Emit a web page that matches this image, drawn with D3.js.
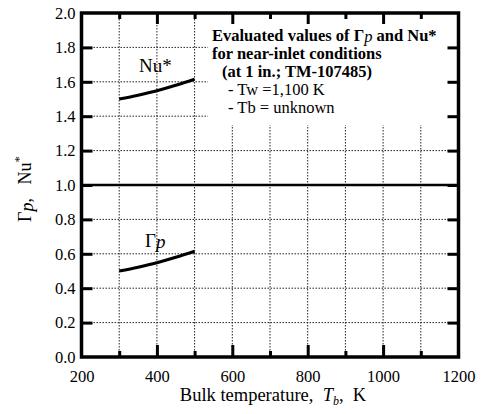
<!DOCTYPE html>
<html><head><meta charset="utf-8">
<script src="https://cdn.jsdelivr.net/npm/d3@7"></script>
</head>
<body style="margin:0"><svg id="c" width="481" height="414"></svg>
<script>
const tempK = [300, 350, 400, 450, 500];
const nuStar = [1.50, 1.522, 1.548, 1.58, 1.615];
const gammaP = [0.50, 0.522, 0.548, 0.58, 0.615];
const xTickValues = [200, 400, 600, 800, 1000, 1200];
const xMinorValues = [300, 500, 700, 900, 1100];
const yTickValues = [0.0, 0.2, 0.4, 0.6, 0.8, 1.0, 1.2, 1.4, 1.6, 1.8, 2.0];
const noteLines = [
  {t: "Evaluated values of ", bold: true},
  {t: "for near-inlet conditions", bold: true},
  {t: "(at 1 in.; TM-107485)", bold: true},
  {t: "- Tw =1,100 K", bold: false},
  {t: "- Tb = unknown", bold: false}
];

const FONT = "Liberation Serif";
const svg = d3.select("#c");
const L = 81.5, R = 458.5, T = 13, B = 357;
const x = d3.scaleLinear().domain([200, 1200]).range([L, R]);
const y = d3.scaleLinear().domain([0, 2]).range([B, T]);

// grid
const grid = svg.append("g").attr("stroke", "#222").attr("stroke-width", 1).attr("stroke-dasharray", "1.5,1.5");
d3.range(300, 1200, 100).forEach(v => grid.append("line").attr("x1", x(v)).attr("x2", x(v)).attr("y1", T).attr("y2", B));
yTickValues.filter(v => v > 0 && v < 2 && v !== 1).forEach(v => grid.append("line").attr("x1", L).attr("x2", R).attr("y1", y(v)).attr("y2", y(v)));

// white note box
svg.append("rect").attr("x", 208).attr("y", 15).attr("width", 246).attr("height", 110).attr("fill", "#fff");

// 1.0 line
svg.append("line").attr("x1", L).attr("x2", R).attr("y1", y(1)).attr("y2", y(1)).attr("stroke", "#000").attr("stroke-width", 2.5);

// axes
const fmtY = d3.format(".1f");
const axB = svg.append("g").attr("transform", `translate(0,${B})`)
  .call(d3.axisBottom(x).tickValues(xTickValues).tickSize(-12).tickPadding(18).tickFormat(d3.format("d")));
const axT = svg.append("g").attr("transform", `translate(0,${T})`)
  .call(d3.axisTop(x).tickValues(xTickValues.slice(1, -1)).tickSize(-11).tickFormat(""));
const axBm = svg.append("g").attr("transform", `translate(0,${B})`)
  .call(d3.axisBottom(x).tickValues(xMinorValues).tickSize(-6).tickFormat(""));
const axTm = svg.append("g").attr("transform", `translate(0,${T})`)
  .call(d3.axisTop(x).tickValues(xMinorValues).tickSize(-6).tickFormat(""));
const axL = svg.append("g").attr("transform", `translate(${L},0)`)
  .call(d3.axisLeft(y).tickValues(yTickValues).tickSize(-11).tickPadding(18).tickFormat(fmtY));
const axR = svg.append("g").attr("transform", `translate(${R},0)`)
  .call(d3.axisRight(y).tickValues(yTickValues.slice(1, -1)).tickSize(-11).tickFormat(""));
[axB, axT, axBm, axTm, axL, axR].forEach(g => {
  g.attr("font-family", FONT);
  g.select(".domain").remove();
  g.selectAll(".tick line").attr("stroke", "#000").attr("stroke-width", 3);
  g.selectAll(".tick text").attr("font-size", 16.5).attr("fill", "#000").attr("font-family", FONT);
});
axL.selectAll(".tick line").filter(d => d === 0 || d === 2).remove();
axB.selectAll(".tick line").filter(d => d === 200 || d === 1200).remove();
axB.selectAll(".tick text").attr("dy", "0.71em").attr("y", 13);
axL.selectAll(".tick text").attr("x", -6);

// frame
svg.append("rect").attr("x", L).attr("y", T).attr("width", R - L).attr("height", B - T)
  .attr("fill", "none").attr("stroke", "#000").attr("stroke-width", 3.5);

// curves
const line = d3.line().curve(d3.curveMonotoneX);
svg.append("path").attr("d", line(tempK.map((t, i) => [x(t), y(nuStar[i])])))
  .attr("fill", "none").attr("stroke", "#000").attr("stroke-width", 3);
svg.append("path").attr("d", line(tempK.map((t, i) => [x(t), y(gammaP[i])])))
  .attr("fill", "none").attr("stroke", "#000").attr("stroke-width", 3);

// curve labels
svg.append("text").attr("font-family", FONT).attr("x", 139).attr("y", 72).attr("font-size", 19).text("Nu*");
const gl = svg.append("text").attr("font-family", FONT).attr("x", 145).attr("y", 247).attr("font-size", 19);
gl.append("tspan").text("Γ");
gl.append("tspan").attr("font-style", "italic").attr("dy", 1).text("p");

// note
const noteX = [212, 212, 222, 228, 228];
const noteY = [41, 59, 77, 95, 113];
noteLines.forEach((d, i) => {
  const t = svg.append("text").attr("font-family", FONT).attr("x", noteX[i]).attr("y", noteY[i]).attr("font-size", 16.5)
    .attr("font-weight", d.bold ? "bold" : "normal");
  t.append("tspan").text(d.t);
  if (i === 0) {
    t.append("tspan").text("Γ");
    t.append("tspan").attr("font-style", "italic").attr("font-weight", "normal").attr("dy", 1).text("p");
    t.append("tspan").attr("dy", -1).text(" and Nu*");
  }
});

// x title
const xt = svg.append("text").attr("font-family", FONT).attr("x", 273).attr("y", 401).attr("text-anchor", "middle").attr("font-size", 18.5);
xt.append("tspan").text("Bulk temperature,\u00a0\u00a0");
xt.append("tspan").attr("font-style", "italic").text("T");
xt.append("tspan").attr("font-style", "italic").attr("font-size", 12).attr("dy", 4).text("b");
xt.append("tspan").attr("dy", -4).text(",\u00a0\u00a0K");

// y title
const yt = svg.append("text").attr("font-family", FONT).attr("transform", "translate(31,189) rotate(-90)").attr("text-anchor", "middle").attr("font-size", 18);
yt.append("tspan").text("Γ");
yt.append("tspan").attr("font-style", "italic").attr("dy", 2).text("p");
yt.append("tspan").attr("dy", -2).text(",\u00a0\u00a0\u00a0Nu");
yt.append("tspan").attr("font-size", 13).attr("dy", -8).text("*");
</script></body></html>
